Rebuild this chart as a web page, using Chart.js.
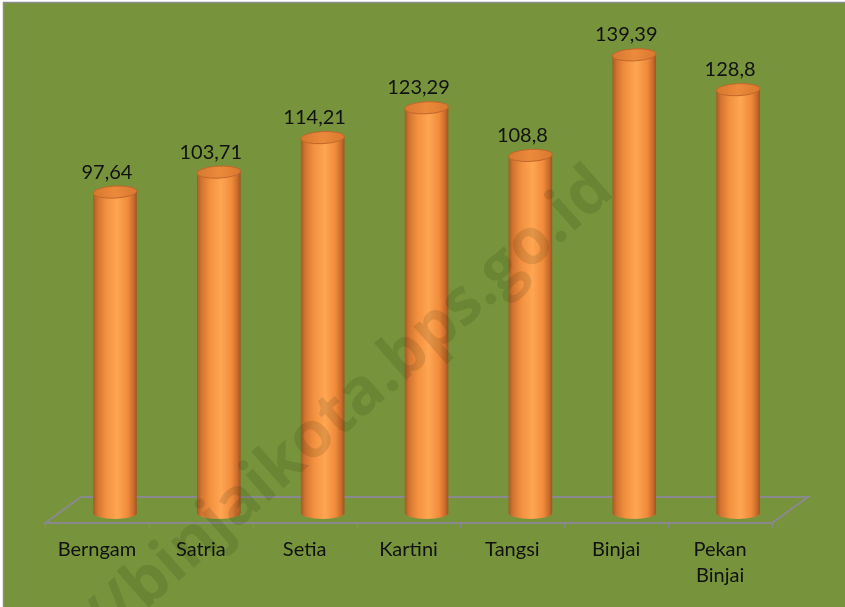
<!DOCTYPE html>
<html>
<head>
<meta charset="utf-8">
<script src="https://cdn.jsdelivr.net/npm/chart.js@4"></script>
<style>
  html, body { margin: 0; padding: 0; background: #ffffff; }
  #wrap { width: 845px; height: 607px; position: relative; }
</style>
</head>
<body>
<div id="wrap"><canvas id="chart" width="845" height="607"></canvas></div>
<script>
// kecamatan / kelurahan names
const categories = [["Berngam"], ["Satria"], ["Setia"], ["Kartini"], ["Tangsi"], ["Binjai"], ["Pekan", "Binjai"]];
// values shown on top of each cylinder
const values = [97.64, 103.71, 114.21, 123.29, 108.8, 139.39, 128.8];
const valueLabels = ["97,64", "103,71", "114,21", "123,29", "108,8", "139,39", "128,8"];

const bgGreen = "#77933c";
const depthX = 18;   // 3d floor offset
const depthY = 13;

// background + frame
const backgroundPlugin = {
  id: "bg",
  beforeDraw(chart) {
    const ctx = chart.ctx;
    ctx.save();
    ctx.fillStyle = "#ffffff";
    ctx.fillRect(0, 0, chart.width, chart.height);
    ctx.fillStyle = bgGreen;
    ctx.fillRect(4, 3, chart.width - 4, chart.height - 3);
    ctx.strokeStyle = "#8d8d8d";
    ctx.lineWidth = 1.5;
    ctx.beginPath();
    ctx.moveTo(3.5, chart.height);
    ctx.lineTo(3.5, 2.5);
    ctx.lineTo(chart.width, 2.5);
    ctx.stroke();
    ctx.restore();
  }
};

// floor parallelogram with ticks on the front edge
const floorPlugin = {
  id: "floor",
  beforeDatasetsDraw(chart) {
    const ctx = chart.ctx;
    const area = chart.chartArea;
    const mid = chart.scales.y.getPixelForValue(0) - 3;
    const front = mid + depthY, back = mid - depthY;
    ctx.save();
    ctx.strokeStyle = "#8a8a8e";
    ctx.lineWidth = 2;
    ctx.beginPath();
    ctx.moveTo(area.left - depthX, front);
    ctx.lineTo(area.left + depthX, back);
    ctx.lineTo(area.right + depthX, back);
    ctx.lineTo(area.right - depthX, front);
    ctx.closePath();
    ctx.stroke();
    const step = (area.right - area.left) / categories.length;
    ctx.lineWidth = 1;
    ctx.beginPath();
    for (let i = 0; i <= categories.length; i++) {
      const tx = Math.round(area.left + i * step - depthX) + 0.5;
      ctx.moveTo(tx, front);
      ctx.lineTo(tx, front + 5);
    }
    ctx.stroke();
    ctx.restore();
  }
};

// cylinders, value labels, category labels, watermark
const cylinderPlugin = {
  id: "cylinders",
  afterDatasetsDraw(chart) {
    const ctx = chart.ctx;
    const meta = chart.getDatasetMeta(0);
    ctx.save();
    meta.data.forEach((bar, i) => {
      const rx = bar.width / 2, ry = 6;
      const left = bar.x - rx, right = bar.x + rx;
      const grad = ctx.createLinearGradient(left, 0, right, 0);
      grad.addColorStop(0, "#a65a24");
      grad.addColorStop(0.1, "#d2742f");
      grad.addColorStop(0.3, "#f2913f");
      grad.addColorStop(0.55, "#ffa653");
      grad.addColorStop(0.8, "#ef8a3a");
      grad.addColorStop(0.93, "#c96a2a");
      grad.addColorStop(1, "#9c5421");
      ctx.fillStyle = grad;
      ctx.beginPath();
      ctx.moveTo(left, bar.y);
      ctx.lineTo(left, bar.base);
      ctx.ellipse(bar.x, bar.base, rx, ry, 0, Math.PI, 0, true);
      ctx.lineTo(right, bar.y);
      ctx.closePath();
      ctx.fill();
      // top cap
      const capGrad = ctx.createLinearGradient(left, 0, right, 0);
      capGrad.addColorStop(0, "#d7782f");
      capGrad.addColorStop(0.5, "#ec8a3c");
      capGrad.addColorStop(1, "#d9782f");
      ctx.fillStyle = capGrad;
      ctx.strokeStyle = "#c2672a";
      ctx.lineWidth = 1;
      ctx.beginPath();
      ctx.ellipse(bar.x, bar.y, rx, ry, -0.05, 0, Math.PI * 2);
      ctx.fill();
      ctx.stroke();

      ctx.fillStyle = "#111111";
      ctx.font = "20px Lato";
      ctx.textAlign = "center";
      ctx.textBaseline = "middle";
      ctx.fillText(valueLabels[i], bar.x - 8, bar.y - 20);

      const lines = categories[i];
      lines.forEach((t, k) => {
        ctx.fillText(t, bar.x - depthX, 550 + k * 26);
      });
    });

    // watermark
    ctx.translate(616, 194);
    ctx.rotate(-41.5 * Math.PI / 180);
    ctx.font = "bold 64px 'Open Sans'";
    ctx.textAlign = "right";
    ctx.textBaseline = "alphabetic";
    ctx.fillStyle = "rgba(20, 30, 0, 0.12)";
    ctx.fillText("//binjaikota.bps.go.id", 0, 0);
    ctx.restore();
  }
};

new Chart(document.getElementById("chart"), {
  type: "bar",
  data: {
    labels: categories,
    datasets: [{
      data: values,
      backgroundColor: "rgba(0,0,0,0)",
      borderWidth: 0,
      barPercentage: 0.42,
      categoryPercentage: 1
    }]
  },
  options: {
    responsive: false,
    animation: false,
    layout: { padding: { left: 63, right: 55, top: 20, bottom: 94 } },
    scales: {
      x: { display: false },
      y: { display: false, min: 0, max: 150 }
    },
    plugins: {
      legend: { display: false },
      tooltip: { enabled: false }
    }
  },
  plugins: [backgroundPlugin, floorPlugin, cylinderPlugin]
});
</script>
</body>
</html>
